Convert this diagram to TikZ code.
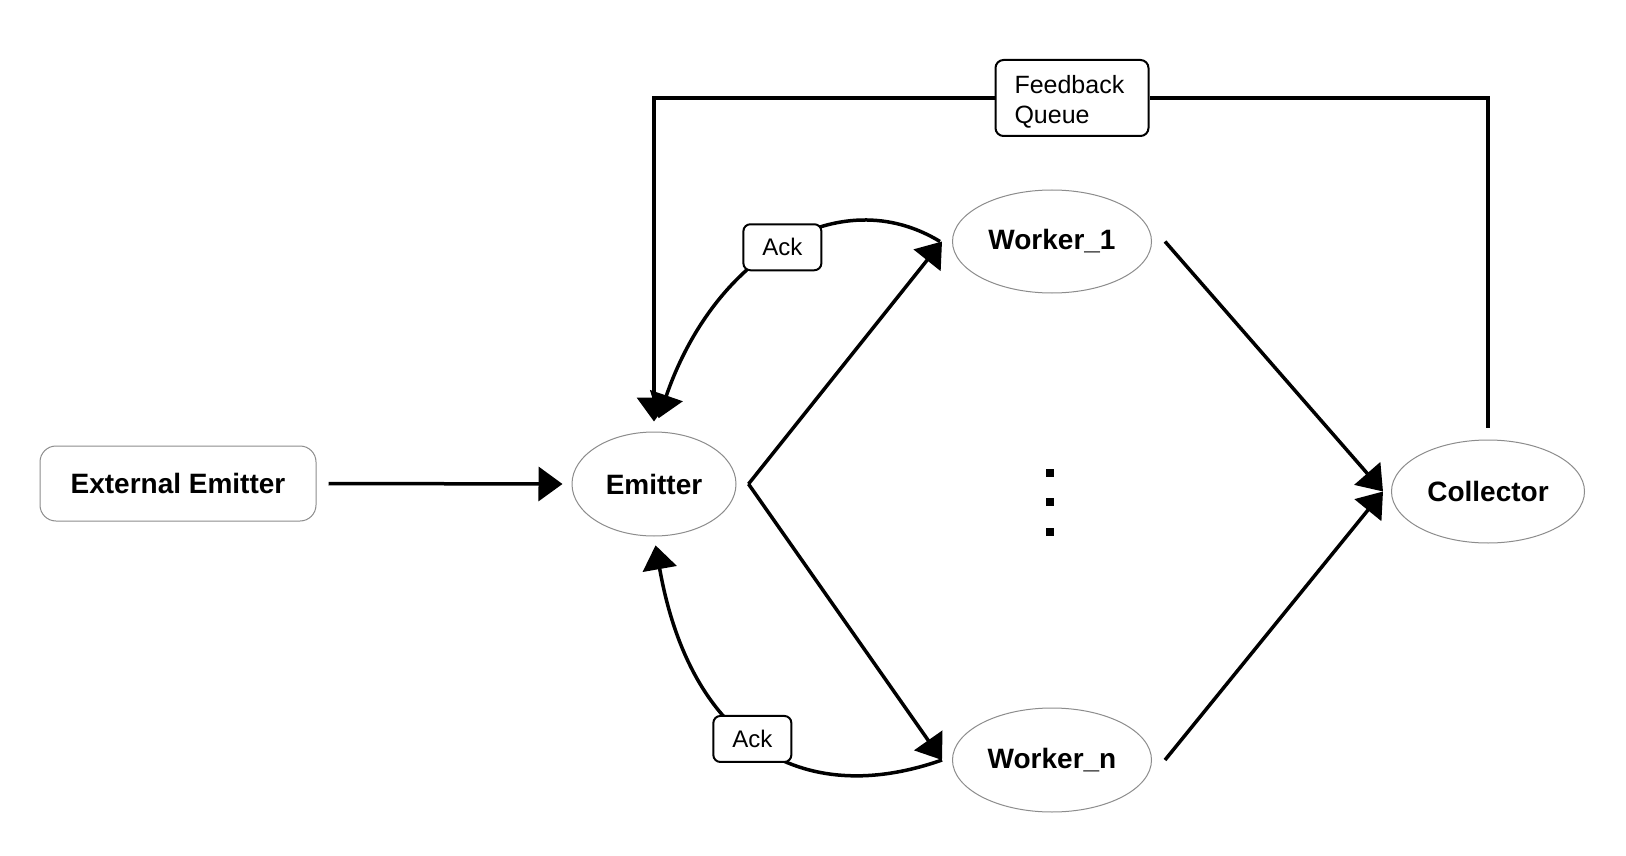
\documentclass[tikz,border=0pt]{standalone}
\usepackage{fontspec}
\setmainfont{Liberation Sans}
\usetikzlibrary{arrows.meta,shapes.geometric,calc}
\begin{document}
\begin{tikzpicture}[x=1pt,y=-1pt,
  ell/.style={ellipse, draw=black!45, line width=1pt, inner sep=0pt, font=\fontsize{28}{32}\selectfont\bfseries},
  extbox/.style={rectangle, draw=black!45, line width=1pt, rounded corners=16pt, inner sep=0pt, font=\fontsize{28}{32}\selectfont\bfseries},
  conn/.style={line width=3.5pt, -{Triangle[length=24pt,width=34pt]}},
  plain/.style={line width=3.5pt},
  ackbox/.style={rectangle, draw=black, line width=2pt, rounded corners=7pt, fill=white, minimum width=78pt, minimum height=46pt, inner sep=0pt, font=\fontsize{24}{28}\selectfont},
  fbbox/.style={rectangle, draw=black, line width=2pt, rounded corners=8pt, fill=white, minimum width=153pt, minimum height=76pt, inner sep=0pt, text width=115pt, align=left, font=\fontsize{25}{30}\selectfont},
  dotbox/.style={rectangle, fill=black, minimum size=8pt, inner sep=0pt}
]
\useasboundingbox[fill=white] (0,0) rectangle (1626,856);

% nodes
\node[extbox, minimum width=276pt, minimum height=75pt] (ext) at (178,483.5) {External Emitter};
\node[ell, minimum width=164pt, minimum height=104pt] (em) at (654,484) {Emitter};
\node[ell, minimum width=199pt, minimum height=103pt] (w1) at (1052,241.5) {Worker\_1};
\node[ell, minimum width=199pt, minimum height=104pt] (wn) at (1052,760) {Worker\_n};
\node[ell, minimum width=193pt, minimum height=103pt] (col) at (1488,491.5) {Collector};
\node[fbbox] (fbq) at (1072,98) {\rule{0pt}{25pt}Feedback\\Queue};
\node[dotbox] (d1) at (1050,473) {};
\node[dotbox] (d2) at (1050,502) {};
\node[dotbox] (d3) at (1050,532) {};

% connectors
\draw[conn] ($(ext.east)+(12,0)$) -- ($(em.west)+(-9,0)$);
\draw[conn] ($(em.east)+(12,0)$) -- ($(w1.west)+(-10,0)$);
\draw[conn] ($(em.east)+(12,0)$) -- ($(wn.west)+(-10,0)$);
\draw[conn] ($(w1.east)+(13,0)$) -- ($(col.west)+(-8,0)$);
\draw[conn] ($(wn.east)+(13,0)$) -- ($(col.west)+(-8,0)$);

% feedback loop
\draw[plain] ($(col.north)+(0,-12)$) |- (fbq.east);
\draw[conn] (fbq.west) -| ($(em.north)+(0,-10)$);

% ack curves
\draw[conn, shorten >=14pt] ($(w1.west)+(-12,0)$) .. controls +(-100,-61) and +(61,-177) .. (em.north)
  node[ackbox, pos=0.5] (ack1) {Ack};
\draw[conn, shorten >=9pt] ($(wn.west)+(-10,0)$) .. controls +(-142,50) and +(36,204) .. (em.south)
  node[ackbox, pos=0.52] (ack2) {Ack};
\end{tikzpicture}
\end{document}
